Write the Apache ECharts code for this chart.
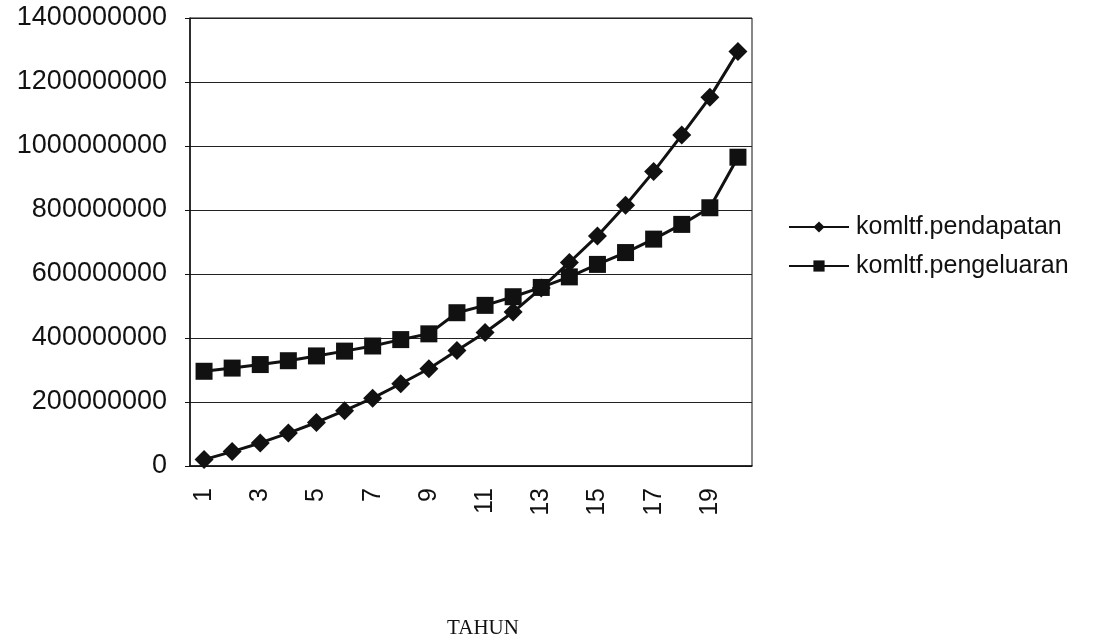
<!DOCTYPE html>
<html>
<head>
<meta charset="utf-8">
<script src="https://cdn.jsdelivr.net/npm/echarts@6/dist/echarts.min.js"></script>
<style>
html,body{margin:0;padding:0;background:#fff;}
#chart{width:1098px;height:641px;}
</style>
</head>
<body>
<div id="chart"></div>
<script>
const categories = ['1','2','3','4','5','6','7','8','9','10','11','12','13','14','15','16','17','18','19','20'];
const pendapatan = [20000000, 45000000, 72000000, 103000000, 136000000, 173000000, 212000000, 257000000, 304000000, 361000000, 417000000, 481000000, 556000000, 636000000, 719000000, 815000000, 920000000, 1034000000, 1152000000, 1295000000];
const pengeluaran = [296000000, 306000000, 317000000, 329000000, 344000000, 359000000, 375000000, 395000000, 413000000, 479000000, 502000000, 529000000, 558000000, 591000000, 630000000, 667000000, 709000000, 755000000, 807000000, 965000000];
const seriesNames = ['komltf.pendapatan', 'komltf.pengeluaran'];
const xTitle = 'TAHUN';

const chart = echarts.init(document.getElementById('chart'));
chart.setOption({
  backgroundColor: '#ffffff',
  animation: false,
  grid: {left: 190, top: 18, width: 562, height: 448, show: true, borderColor: '#111', borderWidth: 1},
  legend: {
    orient: 'vertical', left: 783, top: 209, itemGap: 13, itemWidth: 60, itemHeight: 14,
    textStyle: {fontFamily: 'Liberation Sans, Arial', fontSize: 25, lineHeight: 26, color: '#111', padding: [0, 0, 0, 2]},
    data: seriesNames
  },
  xAxis: {
    type: 'category', data: categories, boundaryGap: true,
    axisLine: {lineStyle: {color: '#111', width: 1.5}},
    axisTick: {show: false},
    axisLabel: {interval: 1, rotate: 90, margin: 22, fontFamily: 'Liberation Sans, Arial', fontSize: 25, color: '#111'}
  },
  yAxis: {
    type: 'value', min: 0, max: 1400000000, interval: 200000000,
    axisLine: {show: true, lineStyle: {color: '#111', width: 1.5}},
    axisTick: {show: true, length: 5, lineStyle: {color: '#111'}},
    splitLine: {lineStyle: {color: '#222', width: 1}},
    axisLabel: {margin: 23, fontFamily: 'Liberation Sans, Arial', fontSize: 27, color: '#111',
      formatter: function (v) { return String(v); }}
  },
  graphic: [{
    type: 'text', x: 483, y: 628,
    style: {text: xTitle, font: '21px "Liberation Serif", "DejaVu Serif", serif', fill: '#111', align: 'center', verticalAlign: 'middle'}
  }],
  series: [
    {name: seriesNames[0], type: 'line', data: pendapatan, symbol: 'diamond', symbolSize: 19, showAllSymbol: true,
     lineStyle: {color: '#111', width: 3}, itemStyle: {color: '#111'}},
    {name: seriesNames[1], type: 'line', data: pengeluaran, symbol: 'rect', symbolSize: 17, showAllSymbol: true,
     lineStyle: {color: '#111', width: 3}, itemStyle: {color: '#111'}}
  ]
});
</script>
</body>
</html>
